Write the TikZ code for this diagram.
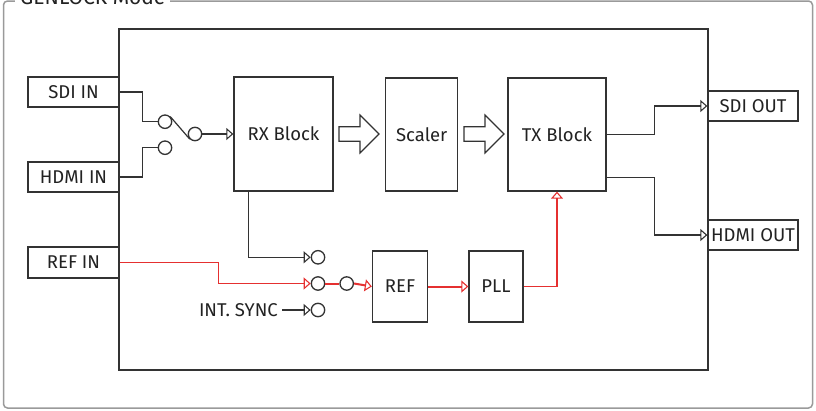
\documentclass[tikz,border=0pt]{standalone}
\usepackage{fontspec}
\setmainfont{Fira Sans}
\usetikzlibrary{arrows.meta,calc}
\definecolor{ln}{HTML}{333333}
\definecolor{tx}{HTML}{222222}
\definecolor{rd}{HTML}{E53030}
\definecolor{fr}{HTML}{9A9A9A}
\begin{document}
\begin{tikzpicture}[x=1pt,y=-1pt,
  font=\fontsize{18.5}{20}\selectfont,
  every node/.style={text=tx},
  blk/.style={draw=ln,line width=1.3pt,inner sep=0pt,anchor=center},
  cir/.style={draw=ln,line width=1.3pt,circle,minimum size=13.4pt,inner sep=0pt},
  wire/.style={draw=ln,line width=1.2pt},
  rwire/.style={draw=rd,line width=1.2pt},
  tip/.style={-{Triangle[open,length=7pt,width=12pt,line width=1.1pt]}},
  barrow/.pic={\draw[ln,line width=1.2pt,fill=white] (0,-7.2) -- (21,-7.2) -- (21,-19) -- (40,0) -- (21,19) -- (21,7.2) -- (0,7.2) -- cycle;}
]
\useasboundingbox (0,0) rectangle (816,410);
% outer frame
\draw[fr,line width=1.5pt,rounded corners=4pt] (3.5,1) rectangle (812.5,408);
\node[fill=white,inner xsep=5pt,inner ysep=3pt,anchor=base west,font=\fontsize{21}{23}\selectfont] (title) at (15,4.5) {GENLOCK Mode};
% inner unit
\node[blk,minimum width=589pt,minimum height=341pt] (unit) at (413.5,199.5) {};
% boxes
\node[blk,fill=white,minimum width=91pt,minimum height=30pt] (sdiin) at (73.5,92) {SDI IN};
\node[blk,fill=white,minimum width=91pt,minimum height=30pt] (hdmiin) at (73.5,177) {HDMI IN};
\node[blk,fill=white,minimum width=91pt,minimum height=31pt] (refin) at (73.5,262.5) {REF IN};
\node[blk,minimum width=99pt,minimum height=114pt] (rx) at (283.5,134) {RX Block};
\node[blk,minimum width=72pt,minimum height=113pt] (scaler) at (421.7,134.5) {Scaler};
\node[blk,minimum width=98pt,minimum height=113pt] (tx) at (557,134.5) {TX Block};
\node[blk,fill=white,minimum width=90pt,minimum height=30pt] (sdiout) at (753,106) {SDI OUT};
\node[blk,fill=white,minimum width=90pt,minimum height=30pt] (hdmiout) at (753,235) {HDMI OUT};
\node[blk,minimum width=55pt,minimum height=71pt] (ref) at (400,286.5) {REF};
\node[blk,minimum width=54pt,minimum height=71pt] (pll) at (496,286.5) {PLL};
% circles
\node[cir] (c1) at (165,121.7) {};
\node[cir] (c2) at (195,134) {};
\node[cir] (c3) at (165,147.7) {};
\node[cir] (r1) at (318,257.3) {};
\node[cir] (r2) at (318,283.5) {};
\node[cir] (r3) at (346.7,283.5) {};
\node[cir] (r4) at (318,310) {};
\node[anchor=east,inner xsep=4pt,inner ysep=0pt] (intsync) at (282,310) {INT. SYNC};
% block arrows
\pic at (339,134) {barrow};
\pic at (464,134) {barrow};
% input switch
\draw[wire] (sdiin.east) -- ++(22.7,0) |- (c1.west);
\draw[wire] (hdmiin.east) -- ++(22.7,0) |- (c3.west);
\draw[wire] (c1.44) -- (c2.224);
\draw[wire,line width=2pt,tip] (c2.east) -- (rx.west);
% rx to sync selector
\draw[wire,tip] ($(rx.south west)+(15,0)$) |- (r1.west);
\draw[wire,line width=2pt,tip] (intsync.east) -- (r4.west);
% reference path
\draw[rwire,tip] (refin.east) -- ++(99,0) |- (r2.west);
\draw[rwire,line width=2pt] (r2.east) -- (r3.west);
\draw[rwire,line width=2pt,tip] (r3.east) -- (ref.west);
\draw[rwire,line width=2pt,tip] (ref.east) -- (pll.west);
\draw[rwire,tip] (pll.east) -| (tx.south);
% outputs
\draw[wire,tip] (tx.east) -- ++(48,0) |- (sdiout.west);
\draw[wire,tip] ($(tx.east)+(0,43)$) -- ++(48,0) |- (hdmiout.west);
\end{tikzpicture}
\end{document}
